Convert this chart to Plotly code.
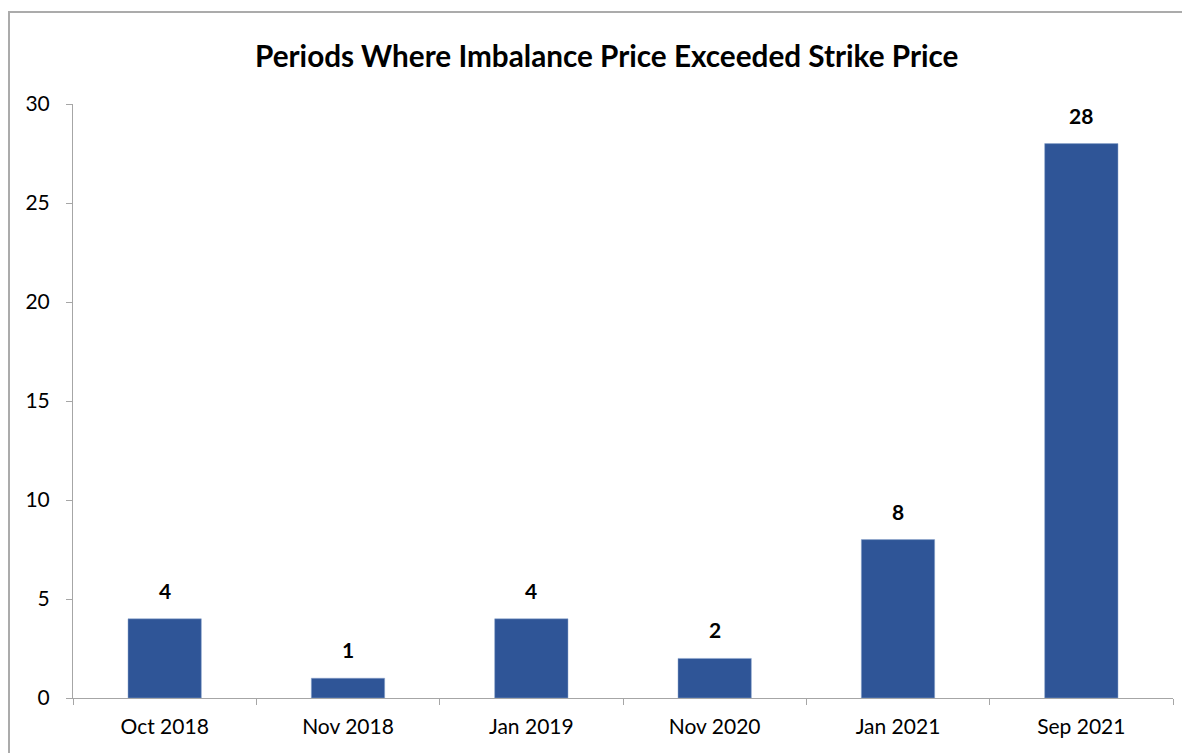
import plotly.graph_objects as go

categories = ["Oct 2018", "Nov 2018", "Jan 2019", "Nov 2020", "Jan 2021", "Sep 2021"]
values = [4, 1, 4, 2, 8, 28]
y_ticks = [0, 5, 10, 15, 20, 25, 30]
title_text = "Periods Where Imbalance Price Exceeded Strike Price"

# page has an 8px body offset; figure coords = screen - 8
W, H = 1190, 753
L, R, T, B = 65, 25, 96, 63
pw, ph = W - L - R, H - T - B
FONT = "Lato, Carlito, sans-serif"

fig = go.Figure()
fig.add_trace(go.Bar(
    x=categories, y=values,
    marker=dict(color="#2F5597", line=dict(color="#8FA6CF", width=0.5)),
    hoverinfo="skip",
))

annotations = []
for c, v in zip(categories, values):
    annotations.append(dict(
        x=c, y=v, xref="x", yref="y", text="<b>%d</b>" % v, showarrow=False,
        yanchor="bottom", xanchor="center", yshift=14,
        font=dict(family=FONT, size=21, color="#000000"),
    ))
annotations.append(dict(
    text="<b>" + title_text + "</b>", x=(598 - L) / pw, y=(H - B - 47) / ph,
    xref="paper", yref="paper", showarrow=False,
    font=dict(size=29.7, family=FONT, color="#000000"),
    xanchor="center", yanchor="middle",
))

axis_col = "#A6A6A6"
fig.update_layout(
    width=W, height=H,
    margin=dict(l=L, r=R, t=T, b=B, pad=0),
    paper_bgcolor="white", plot_bgcolor="white",
    bargap=0.6,
    showlegend=False,
    font=dict(family=FONT, size=21, color="#000000"),
    xaxis=dict(
        type="category", tickson="boundaries", ticks="outside", ticklen=6,
        tickcolor=axis_col, showline=True, linecolor=axis_col, linewidth=1,
        showgrid=False, tickfont=dict(size=21), range=[-0.5, 5.5],
        ticklabelstandoff=10,
    ),
    yaxis=dict(
        range=[0, 30], tickvals=y_ticks, ticks="outside", ticklen=6,
        tickcolor=axis_col, showline=True, linecolor=axis_col, linewidth=1,
        showgrid=False, zeroline=False, tickfont=dict(size=21),
        ticklabelstandoff=12,
    ),
    annotations=annotations,
    shapes=[dict(
        type="rect", xref="paper", yref="paper",
        x0=(1 - L) / pw, x1=(1200 - L) / pw,
        y0=-0.3, y1=(H - B - 4) / ph,
        line=dict(color="#ABABAB", width=2), fillcolor="rgba(0,0,0,0)", layer="below",
    )],
)

fig.write_html("out.html")
